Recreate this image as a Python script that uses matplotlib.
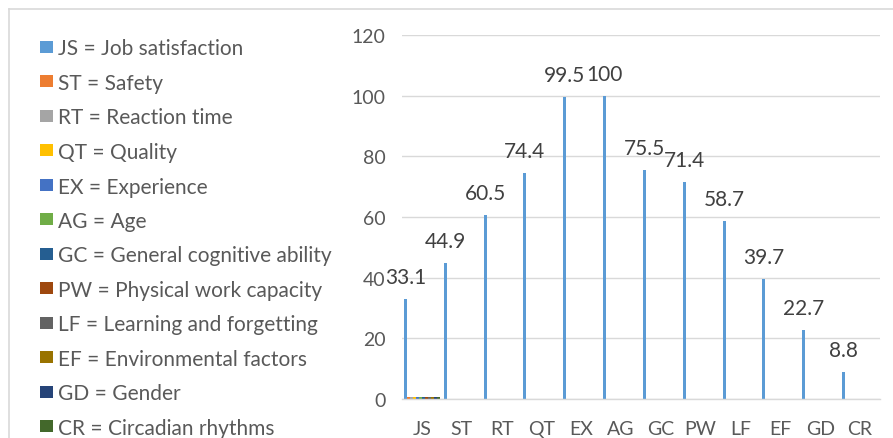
import numpy as np
import matplotlib
matplotlib.use("Agg")
import matplotlib.pyplot as plt
from matplotlib.patches import Rectangle
from matplotlib.lines import Line2D

plt.rcParams['font.family'] = ['Lato', 'DejaVu Sans']

categories = ["JS", "ST", "RT", "QT", "EX", "AG", "GC", "PW", "LF", "EF", "GD", "CR"]
legend_labels = [
    "JS = Job satisfaction", "ST = Safety", "RT = Reaction time", "QT = Quality",
    "EX = Experience", "AG = Age", "GC = General cognitive ability",
    "PW = Physical work capacity", "LF = Learning and forgetting",
    "EF = Environmental factors", "GD = Gender", "CR = Circadian rhythms",
]
js_values = [33.1, 44.9, 60.5, 74.4, 99.5, 100, 75.5, 71.4, 58.7, 39.7, 22.7, 8.8]
# other series only show tiny stubs at the first category
other_stub = 0.7
colors = ["#5B9BD5", "#ED7D31", "#A5A5A5", "#FFC000", "#4472C4", "#70AD47",
          "#255E91", "#9E480E", "#636363", "#997300", "#264478", "#43682B"]
yticks = [0, 20, 40, 60, 80, 100, 120]

W, H = 893, 439
fig = plt.figure(figsize=(W / 100, H / 100), dpi=100)
ax = fig.add_axes([402 / W, 1 - 400 / H, (880 - 402) / W, (400 - 36) / H])

n = len(legend_labels)
x = np.arange(len(categories))
w = 0.9 / n
series = [js_values] + [[other_stub] + [0] * (len(categories) - 1) for _ in range(n - 1)]
bars = []
for i, vals in enumerate(series):
    b = ax.bar(x - 0.45 + w * (i + 0.5), vals, width=w, color=colors[i], linewidth=0)
    bars.append(b)

# data labels for JS series
for xi, v in zip(x - 0.45 + w * 0.5, js_values):
    ax.annotate(f"{v:g}", (xi, v), xytext=(0, 16), textcoords='offset pixels',
                ha='center', va='baseline', fontsize=15, color='#404040')

ax.set_xlim(-0.5, len(categories) - 0.5)
ax.set_ylim(0, 120)
ax.set_yticks(yticks)
ax.set_xticks(x)
ax.set_xticklabels(categories)
ax.tick_params(axis='both', length=0, labelsize=14, labelcolor='#595959')
ax.tick_params(axis='y', pad=12)
ax.tick_params(axis='x', pad=15)
ax.grid(axis='y', color='#D9D9D9', linewidth=1)
ax.set_axisbelow(True)
for s in ['top', 'right', 'left']:
    ax.spines[s].set_visible(False)
ax.spines['bottom'].set_color('#D9D9D9')
ax.spines['bottom'].set_linewidth(1)

# manual legend at the left
y0, dy = 47.5, 34.5
for i, lab in enumerate(legend_labels):
    yc = y0 + dy * i
    fig.patches.append(Rectangle((40 / W, 1 - (yc + 6) / H), 13 / W, 12 / H,
                                 transform=fig.transFigure, color=colors[i], linewidth=0))
    fig.text(58 / W, 1 - yc / H, lab, ha='left', va='center_baseline', fontsize=15,
             color='#595959')

# chart border fragments (top and left)
fig.add_artist(Line2D([8.5 / W, 1], [1 - 10 / H, 1 - 10 / H], transform=fig.transFigure,
                      color='#D9D9D9', linewidth=1.2))
fig.add_artist(Line2D([8.5 / W, 8.5 / W], [0, 1 - 10 / H], transform=fig.transFigure,
                      color='#D9D9D9', linewidth=1.2))

fig.savefig("out.png", dpi=100)
